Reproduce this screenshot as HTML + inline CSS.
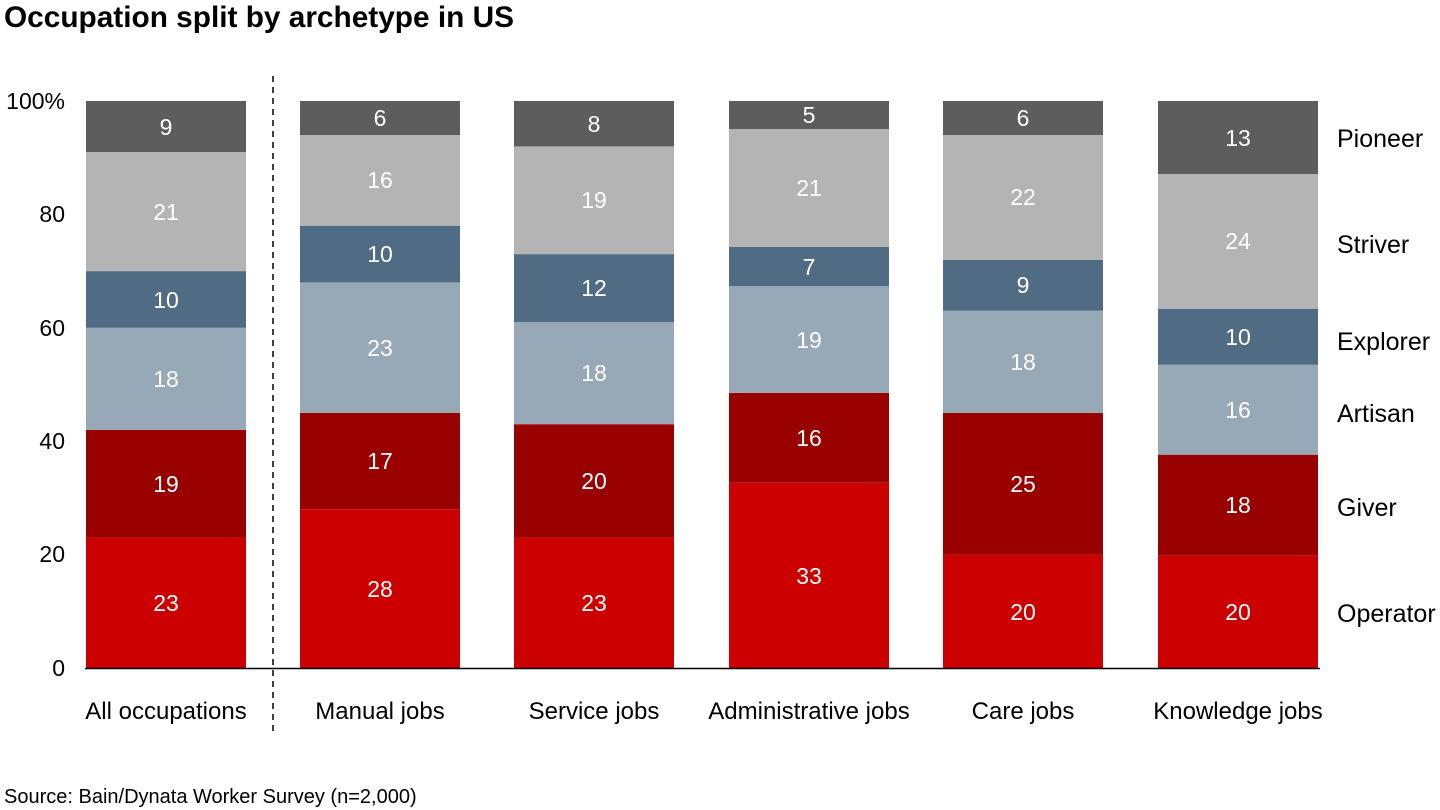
<!DOCTYPE html>
<html><head><meta charset="utf-8"><style>
body{margin:0;background:#fff;}
svg{display:block;font-family:"Liberation Sans",Arial,sans-serif;}
</style></head><body>
<svg width="1440" height="810" viewBox="0 0 1440 810" xmlns="http://www.w3.org/2000/svg">
<text x="4" y="27" font-size="29.8" font-weight="bold" fill="#000">Occupation split by archetype in US</text>
<g font-size="23" fill="#000" text-anchor="end">
<text x="65" y="109">100%</text>
<text x="65" y="222">80</text>
<text x="65" y="336">60</text>
<text x="65" y="449">40</text>
<text x="65" y="562">20</text>
<text x="65" y="676">0</text>
</g>
<line x1="273" y1="76" x2="273" y2="732" stroke="#000" stroke-width="1.5" stroke-dasharray="6,5"/>
<g>
<rect x="86" y="537.6" width="160" height="130.4" fill="#cc0000"/>
<rect x="86" y="429.9" width="160" height="107.7" fill="#990000"/>
<rect x="86" y="327.8" width="160" height="102.1" fill="#97a8b6"/>
<rect x="86" y="271.1" width="160" height="56.7" fill="#506c85"/>
<rect x="86" y="152" width="160" height="119.1" fill="#b4b4b4"/>
<rect x="86" y="101" width="160" height="51" fill="#5d5d5d"/>

<rect x="300" y="509.2" width="160" height="158.8" fill="#cc0000"/>
<rect x="300" y="412.9" width="160" height="96.3" fill="#990000"/>
<rect x="300" y="282.4" width="160" height="130.5" fill="#97a8b6"/>
<rect x="300" y="225.7" width="160" height="56.7" fill="#506c85"/>
<rect x="300" y="135" width="160" height="90.7" fill="#b4b4b4"/>
<rect x="300" y="101" width="160" height="34" fill="#5d5d5d"/>

<rect x="514" y="537.6" width="160" height="130.4" fill="#cc0000"/>
<rect x="514" y="424.2" width="160" height="113.4" fill="#990000"/>
<rect x="514" y="322.1" width="160" height="102.1" fill="#97a8b6"/>
<rect x="514" y="254.1" width="160" height="68" fill="#506c85"/>
<rect x="514" y="146.4" width="160" height="107.7" fill="#b4b4b4"/>
<rect x="514" y="101" width="160" height="45.4" fill="#5d5d5d"/>

<rect x="729" y="482.7" width="160" height="185.3" fill="#cc0000"/>
<rect x="729" y="392.9" width="160" height="89.8" fill="#990000"/>
<rect x="729" y="286.2" width="160" height="106.7" fill="#97a8b6"/>
<rect x="729" y="247" width="160" height="39.2" fill="#506c85"/>
<rect x="729" y="129.1" width="160" height="117.9" fill="#b4b4b4"/>
<rect x="729" y="101" width="160" height="28.1" fill="#5d5d5d"/>

<rect x="943" y="554.6" width="160" height="113.4" fill="#cc0000"/>
<rect x="943" y="412.9" width="160" height="141.7" fill="#990000"/>
<rect x="943" y="310.8" width="160" height="102.1" fill="#97a8b6"/>
<rect x="943" y="259.8" width="160" height="51" fill="#506c85"/>
<rect x="943" y="135" width="160" height="124.8" fill="#b4b4b4"/>
<rect x="943" y="101" width="160" height="34" fill="#5d5d5d"/>

<rect x="1158" y="555.7" width="160" height="112.3" fill="#cc0000"/>
<rect x="1158" y="454.7" width="160" height="101" fill="#990000"/>
<rect x="1158" y="364.8" width="160" height="89.9" fill="#97a8b6"/>
<rect x="1158" y="308.7" width="160" height="56.1" fill="#506c85"/>
<rect x="1158" y="174" width="160" height="134.7" fill="#b4b4b4"/>
<rect x="1158" y="101" width="160" height="73" fill="#5d5d5d"/>
</g>
<g font-size="23" fill="#fff" text-anchor="middle">
<text x="166" y="611">23</text><text x="166" y="492">19</text><text x="166" y="387">18</text><text x="166" y="308">10</text><text x="166" y="220">21</text><text x="166" y="135">9</text>
<text x="380" y="597">28</text><text x="380" y="469">17</text><text x="380" y="356">23</text><text x="380" y="262">10</text><text x="380" y="188">16</text><text x="380" y="126">6</text>
<text x="594" y="611">23</text><text x="594" y="489">20</text><text x="594" y="381">18</text><text x="594" y="296">12</text><text x="594" y="208">19</text><text x="594" y="132">8</text>
<text x="809" y="584">33</text><text x="809" y="446">16</text><text x="809" y="348">19</text><text x="809" y="275">7</text><text x="809" y="196">21</text><text x="809" y="123">5</text>
<text x="1023" y="620">20</text><text x="1023" y="492">25</text><text x="1023" y="370">18</text><text x="1023" y="293">9</text><text x="1023" y="205">22</text><text x="1023" y="126">6</text>
<text x="1238" y="620">20</text><text x="1238" y="513">18</text><text x="1238" y="418">16</text><text x="1238" y="345">10</text><text x="1238" y="249">24</text><text x="1238" y="146">13</text>
</g>
<line x1="85" y1="668.5" x2="1320" y2="668.5" stroke="#000" stroke-width="1.5"/>
<g font-size="24" fill="#000" text-anchor="middle">
<text x="166" y="719">All occupations</text>
<text x="380" y="719">Manual jobs</text>
<text x="594" y="719">Service jobs</text>
<text x="809" y="719">Administrative jobs</text>
<text x="1023" y="719">Care jobs</text>
<text x="1238" y="719">Knowledge jobs</text>
</g>
<g font-size="25" fill="#000">
<text x="1337" y="147">Pioneer</text>
<text x="1337" y="253">Striver</text>
<text x="1337" y="350">Explorer</text>
<text x="1337" y="422">Artisan</text>
<text x="1337" y="516">Giver</text>
<text x="1337" y="622">Operator</text>
</g>
<text x="4" y="803" font-size="20" fill="#000">Source: Bain/Dynata Worker Survey (n=2,000)</text>
</svg>
</body></html>
